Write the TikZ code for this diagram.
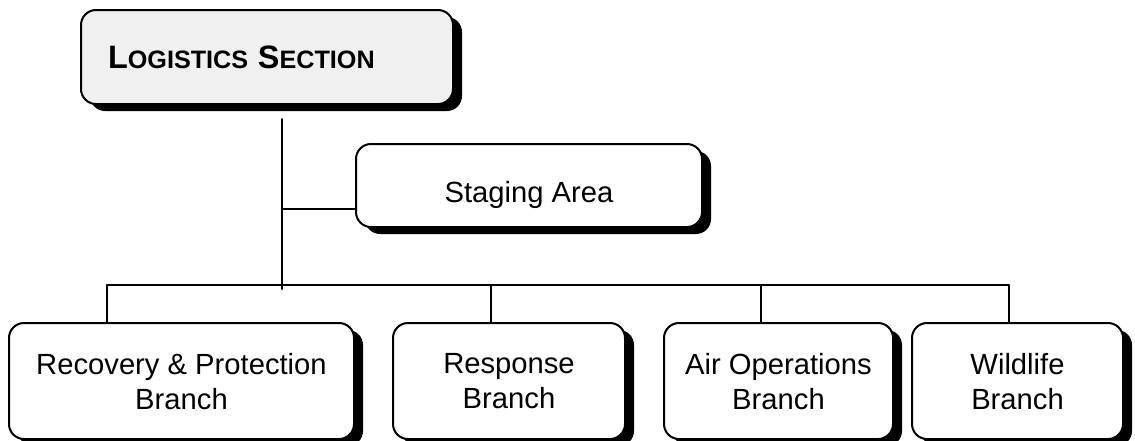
\documentclass[tikz,border=0pt]{standalone}
\usepackage{fontspec}
\setmainfont{Liberation Sans}
\usetikzlibrary{shadows}

\newcommand{\capsmall}[2]{{\fontsize{16.2}{19}\selectfont #1}{\fontsize{12.6}{15}\selectfont #2}}

\begin{document}
\begin{tikzpicture}[
  x=0.5pt, y=-0.5pt,
    line cap=round,
    line join=round,
    orgbox/.style={draw, line width=1pt, rounded corners=7.5pt, fill=white,
    general shadow={fill=black, shadow xshift=4.5pt, shadow yshift=-3.5pt},
    align=center, inner sep=0pt,
    font=\fontsize{14.6}{17.5}\selectfont},
    headbox/.style={orgbox, fill=black!6},
    branchbox/.style={orgbox, minimum height=58pt, text depth=0pt},
    link/.style={line width=1pt}
  ]

\useasboundingbox (0,0) rectangle (1135,440);

% ============================================================
% TOP: section and staging area
% ============================================================
  \node[headbox, minimum width=186pt, minimum height=47pt,
    text width=159pt, align=left] (logistics) at (267,57)
    {\textbf{\capsmall{L}{OGISTICS} \capsmall{S}{ECTION}}};

  \node[orgbox, minimum width=173pt, minimum height=41.5pt,
    text height=19pt, text depth=2pt] (staging)
    at (529,185.5) {Staging Area};

  % trunk down to the branch bus
  \coordinate (trunkend) at (282,289);
  \coordinate (stagejoin) at (282,209);
  \coordinate (bus) at (0,285);

  \draw[link] ([yshift=-7pt]logistics.south -| trunkend) -- (trunkend);
  \draw[link] (stagejoin) -- (stagejoin -| staging.west);

% ============================================================
% BOTTOM: branches
% ============================================================
  \node[branchbox, minimum width=172.5pt] (recovery)
    at (181.5,381) {Recovery \& Protection\\Branch};
  \node[branchbox, minimum width=116pt] (response)
    at (509,381) {Response\\Branch};
  \node[branchbox, minimum width=114.5pt] (airops)
    at (778.5,381) {Air Operations\\Branch};
  \node[branchbox, minimum width=105.5pt] (wildlife)
    at (1017.5,381) {Wildlife\\Branch};

  % bus with drops
  \draw[link] ([xshift=-37.25pt]recovery.north)
    |- ([xshift=-4.25pt]wildlife.north |- bus)
    -- ([xshift=-4.25pt]wildlife.north);
  \draw[link] ([xshift=-9pt]response.north) -- ([xshift=-9pt]response.north |- bus);
  \draw[link] ([xshift=-8.75pt]airops.north) -- ([xshift=-8.75pt]airops.north |- bus);

\end{tikzpicture}
\end{document}
